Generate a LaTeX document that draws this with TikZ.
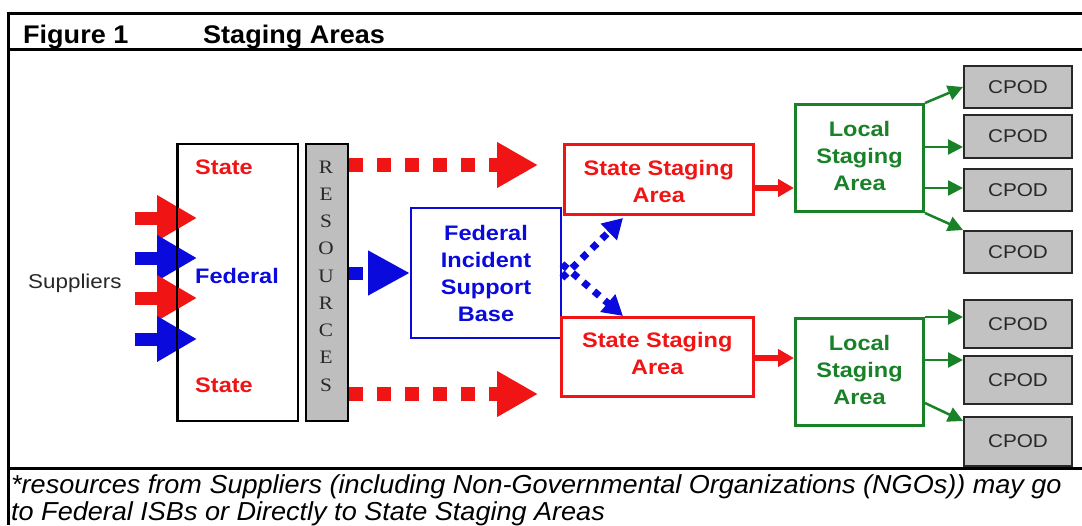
\documentclass[tikz,border=0pt]{standalone}
\usepackage{fontspec}
\setmainfont{Liberation Sans}
\newfontfamily\df[FakeStretch=1.12]{Liberation Sans}
\newfontfamily\hf[FakeStretch=1.06]{Liberation Sans}
\newfontfamily\cf[FakeStretch=1.04]{Liberation Sans}
\newfontfamily\rf[FakeStretch=1.12]{Liberation Serif}
\usetikzlibrary{arrows.meta,calc}
\definecolor{myred}{RGB}{240,20,20}
\definecolor{myblue}{RGB}{10,10,220}
\definecolor{mygreen}{RGB}{25,130,40}
\definecolor{cpodgray}{RGB}{194,194,194}
\definecolor{resgray}{RGB}{190,190,190}
\definecolor{txtgray}{RGB}{40,40,40}
\begin{document}
\begin{tikzpicture}[x=1pt,y=-1pt,
  frame/.style={line width=3pt,black},
  lbl/.style={font=\df\bfseries\fontsize{21}{27}\selectfont,align=center,inner sep=0pt},
  abox/.style={anchor=north west,inner sep=0pt,line width=#1},
  cpod/.style={draw=txtgray,fill=cpodgray,line width=2pt,anchor=north west,inner sep=0pt,minimum width=108pt,
     font=\df\fontsize{18.5}{20}\selectfont,text=txtgray},
  inarrow/.style={line width=13pt,-{Triangle[length=40pt,width=43pt]}},
  dotred/.style={myred,line width=14pt,dash pattern=on 14pt off 14pt,-{Triangle[length=41pt,width=43pt]}},
  dotblue/.style={myblue,line width=7pt,dash pattern=on 7pt off 7pt,-{Triangle[length=20pt,width=22pt]}},
  redlink/.style={myred,line width=6pt,-{Triangle[length=16pt,width=17pt]}},
  greenlink/.style={mygreen,line width=2.5pt,-{Triangle[length=15pt,width=15pt]}},
  captxt/.style={anchor=base west,inner sep=0pt,font=\cf\itshape\fontsize{26}{28}\selectfont}
]
\useasboundingbox (0,0) rectangle (1082,525);
\fill[white] (0,0) rectangle (1082,525);
% frame
\draw[frame] (8,13) -- (1082,13);
\draw[frame] (8,49) -- (1082,49);
\draw[frame] (8,468) -- (1082,468);
\draw[frame] (8,11.5) -- (8,525);
\node[anchor=base west,inner sep=0pt,font=\hf\bfseries\fontsize{25.5}{28}\selectfont] (fig) at (23,43) {Figure 1};
\node[anchor=base west,inner sep=0pt,font=\hf\bfseries\fontsize{25.5}{28}\selectfont] (title) at (203,43) {Staging Areas};
% suppliers
\node[anchor=base west,inner sep=0pt,font=\df\fontsize{20}{24}\selectfont,text=txtgray] (sup) at (28,288) {Suppliers};
% state / federal box
\node[abox=2pt,draw,minimum width=120pt,minimum height=277pt] (sbox) at (177,143) {};
\node[lbl,text=myred] (st1) at (224,167) {State};
\node[lbl,text=myblue] (fed) at (237,276) {Federal};
\node[lbl,text=myred] (st2) at (224,385) {State};
% input arrows
\coordinate (i1) at (135,218);
\coordinate (i2) at (135,258);
\coordinate (i3) at (135,298);
\coordinate (i4) at (135,339);
\draw[inarrow,myred] (i1) -- ($(sbox.west |- i1)+(20,0)$);
\draw[inarrow,myblue] (i2) -- ($(sbox.west |- i2)+(20,0)$);
\draw[inarrow,myred] (i3) -- ($(sbox.west |- i3)+(20,0)$);
\draw[inarrow,myblue] (i4) -- ($(sbox.west |- i4)+(20,0)$);
\draw[line width=2pt] (sbox.north west) -- (sbox.south west);
% resources
\node[abox=2pt,draw,fill=resgray,minimum width=42pt,minimum height=277pt] (res) at (305,143) {};
\node[font=\rf\fontsize{19}{27.25}\selectfont,align=center,inner sep=0pt,text=txtgray] (restxt) at (326,276)
  {R\\E\\S\\O\\U\\R\\C\\E\\S};
% federal ISB
\node[abox=2pt,draw=myblue,minimum width=150pt,minimum height=130pt] (isb) at (410,207) {};
\node[lbl,text=myblue] (isbtxt) at (isb.center) {Federal\\Incident\\Support\\Base};
% state staging areas
\node[abox=2.5pt,draw=myred,minimum width=189pt,minimum height=70pt] (ssa1) at (563,143) {};
\node[lbl,text=myred] (ssa1t) at ($(ssa1.center)+(0,2)$) {State Staging\\Area};
\node[abox=2.5pt,draw=myred,minimum width=192pt,minimum height=79pt] (ssa2) at (560,316) {};
\node[lbl,text=myred] (ssa2t) at ($(ssa2.center)+(0,-3)$) {State Staging\\Area};
% local staging areas
\node[abox=3pt,draw=mygreen,minimum width=128pt,minimum height=107pt] (loc1) at (794,103) {};
\node[lbl,text=mygreen] (loc1t) at ($(loc1.center)+(0,-2)$) {Local\\Staging\\Area};
\node[abox=3pt,draw=mygreen,minimum width=128pt,minimum height=107pt] (loc2) at (794,317) {};
\node[lbl,text=mygreen] (loc2t) at ($(loc2.center)+(0,-2)$) {Local\\Staging\\Area};
% CPODs
\node[cpod,minimum height=42pt] (c1) at (963,65) {CPOD};
\node[cpod,minimum height=43pt] (c2) at (963,114) {CPOD};
\node[cpod,minimum height=42pt] (c3) at (963,168) {CPOD};
\node[cpod,minimum height=42pt] (c4) at (963,230) {CPOD};
\node[cpod,minimum height=48pt] (c5) at (963,299) {CPOD};
\node[cpod,minimum height=48pt] (c6) at (963,355) {CPOD};
\node[cpod,minimum height=49pt] (c7) at (963,416) {CPOD};
% red dotted direct arrows
\coordinate (d1) at (538,165);
\coordinate (d2) at (538,394);
\draw[dotred] (res.east |- d1) -- (d1);
\draw[dotred] (res.east |- d2) -- (d2);
% blue into ISB
\draw[myblue,line width=13pt,dash pattern=on 14pt off 7pt,-{Triangle[length=42pt,width=42pt]}] (res.east |- isb.west) -- (isb.west);
% blue dotted to state staging
\coordinate (b1) at (623,218);
\coordinate (b2) at (623,316);
\draw[dotblue] ($(isb.east)+(0,5)$) -- (b1);
\draw[dotblue] ($(isb.east)+(0,-9)$) -- (b2);
% red links
\draw[redlink] (ssa1.east |- 0,188) -- (loc1.west |- 0,188);
\draw[redlink] (ssa2.east |- 0,358) -- (loc2.west |- 0,358);
% green links
\draw[greenlink] (loc1.north east) -- (c1.west);
\draw[greenlink] (loc1.east |- 0,147) -- (c2.west |- 0,147);
\draw[greenlink] (loc1.east |- 0,188) -- (c3.west |- 0,188);
\draw[greenlink] (loc1.south east) -- (c4.north west);
\draw[greenlink] (loc2.north east) -- (c5.west |- loc2.north);
\draw[greenlink] (loc2.east |- 0,360) -- (c6.west |- 0,360);
\draw[greenlink] (loc2.east |- 0,403) -- ($(c7.north west)+(0,5)$);
% caption
\node[captxt] (cap1) at (11,493)
  {*resources from Suppliers (including Non-Governmental Organizations (NGOs)) may go};
\node[captxt] (cap2) at (11,520)
  {to Federal ISBs or Directly to State Staging Areas};
\end{tikzpicture}
\end{document}
